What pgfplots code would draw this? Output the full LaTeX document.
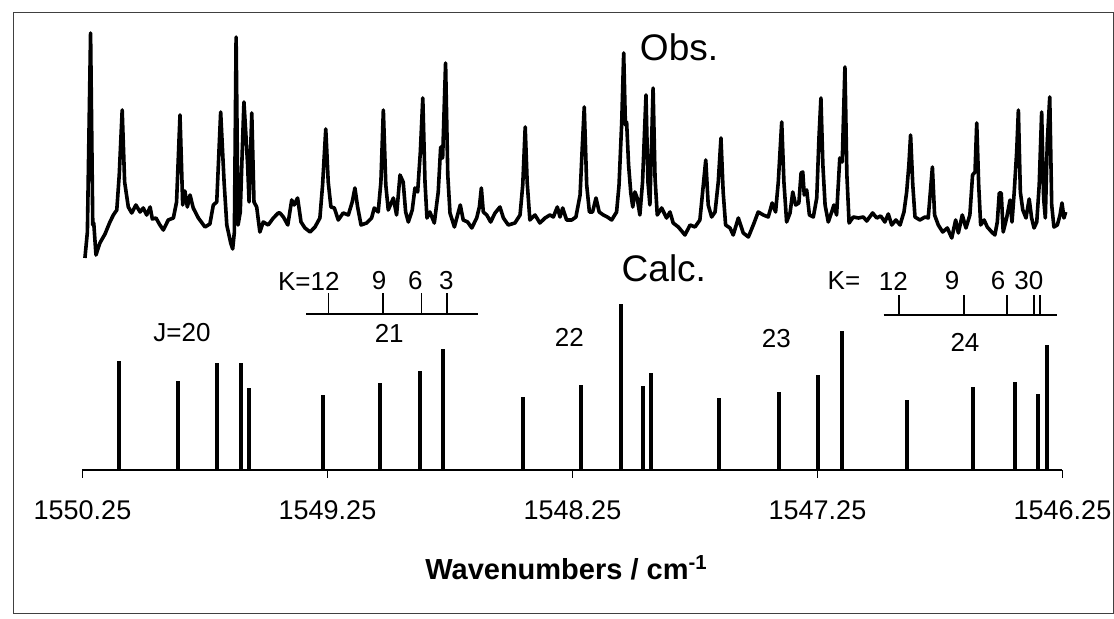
\documentclass[border=0pt]{standalone}
\usepackage{pgfplots}
\pgfplotsset{compat=1.18}
\usepackage{pgfplotstable}
\usepackage{fontspec}
\setmainfont{Liberation Sans}

\pgfplotstableread{
w h
1550.240 212
1550.230 238
1550.217 437
1550.208 245
1550.204 247
1550.195 215
1550.179 227
1550.158 236
1550.138 248
1550.124 255
1550.110 260
1550.100 295
1550.088 360
1550.078 288
1550.063 263
1550.049 257
1550.032 265
1550.015 258
1550.002 262
1549.988 255
1549.974 263
1549.965 251
1549.950 252
1549.934 245
1549.920 240
1549.900 250
1549.879 252
1549.866 268
1549.852 355
1549.841 265
1549.832 279
1549.822 263
1549.811 275
1549.798 262
1549.777 252
1549.750 243
1549.730 246
1549.716 265
1549.702 268
1549.686 358
1549.672 288
1549.661 245
1549.645 227
1549.637 221
1549.630 238
1549.623 433
1549.615 245
1549.606 258
1549.598 318
1549.591 368
1549.583 335
1549.576 305
1549.570 268
1549.559 357
1549.550 268
1549.539 263
1549.526 238
1549.512 248
1549.492 245
1549.471 252
1549.451 257
1549.444 257
1549.430 253
1549.412 245
1549.396 270
1549.386 265
1549.372 272
1549.358 248
1549.342 242
1549.321 238
1549.301 243
1549.281 252
1549.270 285
1549.257 341
1549.247 288
1549.236 263
1549.222 262
1549.206 250
1549.186 257
1549.165 255
1549.149 268
1549.138 282
1549.127 263
1549.113 245
1549.090 247
1549.070 252
1549.059 262
1549.043 258
1549.032 288
1549.022 360
1549.012 285
1549.002 260
1548.981 272
1548.968 255
1548.954 295
1548.941 288
1548.931 258
1548.920 248
1548.904 260
1548.893 282
1548.882 278
1548.871 318
1548.861 372
1548.852 288
1548.844 252
1548.832 258
1548.814 247
1548.798 278
1548.788 323
1548.780 312
1548.768 407
1548.759 295
1548.750 257
1548.732 243
1548.719 255
1548.708 265
1548.696 250
1548.678 248
1548.661 242
1548.641 252
1548.630 263
1548.622 282
1548.614 258
1548.600 255
1548.584 248
1548.566 257
1548.546 263
1548.532 252
1548.512 245
1548.485 247
1548.464 255
1548.453 285
1548.443 343
1548.435 288
1548.424 250
1548.403 255
1548.383 247
1548.362 252
1548.342 255
1548.328 253
1548.312 263
1548.301 253
1548.290 262
1548.274 250
1548.253 250
1548.236 253
1548.219 275
1548.211 318
1548.202 363
1548.192 285
1548.181 258
1548.168 258
1548.154 272
1548.141 258
1548.124 255
1548.108 253
1548.090 250
1548.070 258
1548.060 285
1548.049 348
1548.041 417
1548.034 345
1548.029 348
1548.021 305
1548.012 277
1548.004 263
1547.995 278
1547.986 272
1547.975 255
1547.964 288
1547.950 375
1547.942 288
1547.934 265
1547.921 382
1547.913 292
1547.904 255
1547.886 262
1547.866 252
1547.852 258
1547.839 247
1547.818 243
1547.791 235
1547.770 245
1547.750 243
1547.730 250
1547.716 285
1547.706 310
1547.696 265
1547.682 253
1547.668 258
1547.655 288
1547.644 332
1547.635 278
1547.625 245
1547.607 242
1547.594 235
1547.573 252
1547.553 237
1547.532 233
1547.512 245
1547.492 258
1547.471 255
1547.451 253
1547.435 267
1547.421 258
1547.410 288
1547.396 348
1547.387 288
1547.376 248
1547.362 257
1547.351 278
1547.339 265
1547.326 267
1547.317 297
1547.310 298
1547.304 275
1547.294 280
1547.283 255
1547.267 253
1547.253 272
1547.244 332
1547.236 372
1547.228 305
1547.219 265
1547.206 248
1547.192 258
1547.183 265
1547.172 255
1547.159 312
1547.149 308
1547.138 403
1547.130 295
1547.121 247
1547.104 253
1547.083 252
1547.063 253
1547.049 249
1547.025 257
1547.008 252
1546.992 254
1546.975 248
1546.961 256
1546.947 245
1546.930 250
1546.913 245
1546.897 258
1546.886 278
1546.877 305
1546.870 335
1546.861 285
1546.852 253
1546.832 250
1546.811 253
1546.798 252
1546.788 282
1546.781 303
1546.772 255
1546.757 245
1546.739 238
1546.720 242
1546.702 232
1546.686 250
1546.675 237
1546.659 255
1546.644 242
1546.628 255
1546.617 295
1546.607 298
1546.600 347
1546.592 285
1546.584 245
1546.570 250
1546.557 243
1546.539 238
1546.526 235
1546.516 248
1546.508 277
1546.500 277
1546.492 238
1546.478 252
1546.464 270
1546.456 248
1546.447 278
1546.437 318
1546.430 360
1546.422 278
1546.412 260
1546.399 252
1546.386 271
1546.376 252
1546.366 242
1546.355 248
1546.345 285
1546.335 358
1546.327 272
1546.320 252
1546.312 328
1546.302 373
1546.294 265
1546.285 243
1546.271 245
1546.260 255
1546.252 267
1546.244 252
1546.237 258
}\obsdata

\pgfplotstableread{
w h
1550.101 109
1549.862 89
1549.701 107
1549.604 107
1549.572 82
1549.270 75
1549.036 87
1548.874 99
1548.779 121
1548.454 73
1548.215 85
1548.054 166
1547.963 84
1547.931 97
1547.654 72
1547.409 78
1547.246 95
1547.148 139
1546.885 70
1546.614 83
1546.442 88
1546.348 76
1546.312 125
}\calcdata

\begin{document}
\begin{tikzpicture}
\useasboundingbox (0,0) rectangle (557pt,309.5pt);
\draw[line width=0.5pt, black!75] (6.5pt,2.5pt) rectangle (556.5pt,303pt);
\begin{axis}[
  at={(41.25pt,74.5pt)}, anchor=south west,
  scale only axis, width=490pt, height=220pt,
  xmin=1546.25, xmax=1550.25, ymin=0, ymax=440,
  x dir=reverse,
  axis x line*=bottom, axis y line=none,
  ytick=\empty,
  xtick={1546.25,1547.25,1548.25,1549.25,1550.25},
  xticklabels={1546.25,1547.25,1548.25,1549.25,1550.25},
  tick align=outside, major tick length=4pt,
  x axis line style={line width=0.8pt},
  tick style={black, line width=0.5pt},
  xticklabel style={font=\fontsize{13.5}{15}\selectfont, yshift=-8pt},
  xlabel={\textbf{Wavenumbers / cm\textsuperscript{-1}}},
  xlabel style={font=\fontsize{14.5}{16}\selectfont, at={(axis description cs:0.5,0)}, anchor=center, yshift=-49pt, xshift=-3pt},
  clip=false,
]
\addplot[black, line width=1.8pt, line join=round] table[x=w, y=h] {\obsdata};
\addplot[black, ycomb, line width=2pt] table[x=w, y=h] {\calcdata};

\node[font=\fontsize{18.5}{20}\selectfont] at (axis cs:1547.815,423) {Obs.};
\node[font=\fontsize{18.5}{20}\selectfont] at (axis cs:1547.877,202) {Calc.};

% K markers, J=21
\draw[line width=0.8pt] (axis cs:1549.336,156) -- (axis cs:1548.636,156);
\draw[line width=0.8pt] (axis cs:1549.246,156) -- (axis cs:1549.246,177);
\draw[line width=0.8pt] (axis cs:1549.024,156) -- (axis cs:1549.024,177);
\draw[line width=0.8pt] (axis cs:1548.867,156) -- (axis cs:1548.867,177);
\draw[line width=0.8pt] (axis cs:1548.762,156) -- (axis cs:1548.762,177);
\node[font=\fontsize{13}{15}\selectfont] at (axis cs:1549.326,189) {K=12};
\node[font=\fontsize{13}{15}\selectfont] at (axis cs:1549.039,189) {9};
\node[font=\fontsize{13}{15}\selectfont] at (axis cs:1548.891,189) {6};
\node[font=\fontsize{13}{15}\selectfont] at (axis cs:1548.765,189) {3};

% K markers, J=24
\draw[line width=0.8pt] (axis cs:1546.980,155) -- (axis cs:1546.272,155);
\draw[line width=0.8pt] (axis cs:1546.917,155) -- (axis cs:1546.917,175);
\draw[line width=0.8pt] (axis cs:1546.653,155) -- (axis cs:1546.653,175);
\draw[line width=0.8pt] (axis cs:1546.476,155) -- (axis cs:1546.476,175);
\draw[line width=0.8pt] (axis cs:1546.367,155) -- (axis cs:1546.367,175);
\draw[line width=0.8pt] (axis cs:1546.342,155) -- (axis cs:1546.342,175);
\node[font=\fontsize{13}{15}\selectfont] at (axis cs:1547.142,189) {K=};
\node[font=\fontsize{13}{15}\selectfont] at (axis cs:1546.940,189) {12};
\node[font=\fontsize{13}{15}\selectfont] at (axis cs:1546.701,189) {9};
\node[font=\fontsize{13}{15}\selectfont] at (axis cs:1546.513,189) {6};
\node[font=\fontsize{13}{15}\selectfont] at (axis cs:1546.387,189) {30};

% J labels
\node[font=\fontsize{13}{15}\selectfont] at (axis cs:1549.844,137) {J=20};
\node[font=\fontsize{13}{15}\selectfont] at (axis cs:1548.998,137) {21};
\node[font=\fontsize{13}{15}\selectfont] at (axis cs:1548.263,133) {22};
\node[font=\fontsize{13}{15}\selectfont] at (axis cs:1547.418,131) {23};
\node[font=\fontsize{13}{15}\selectfont] at (axis cs:1546.648,128) {24};
\end{axis}
\end{tikzpicture}
\end{document}
